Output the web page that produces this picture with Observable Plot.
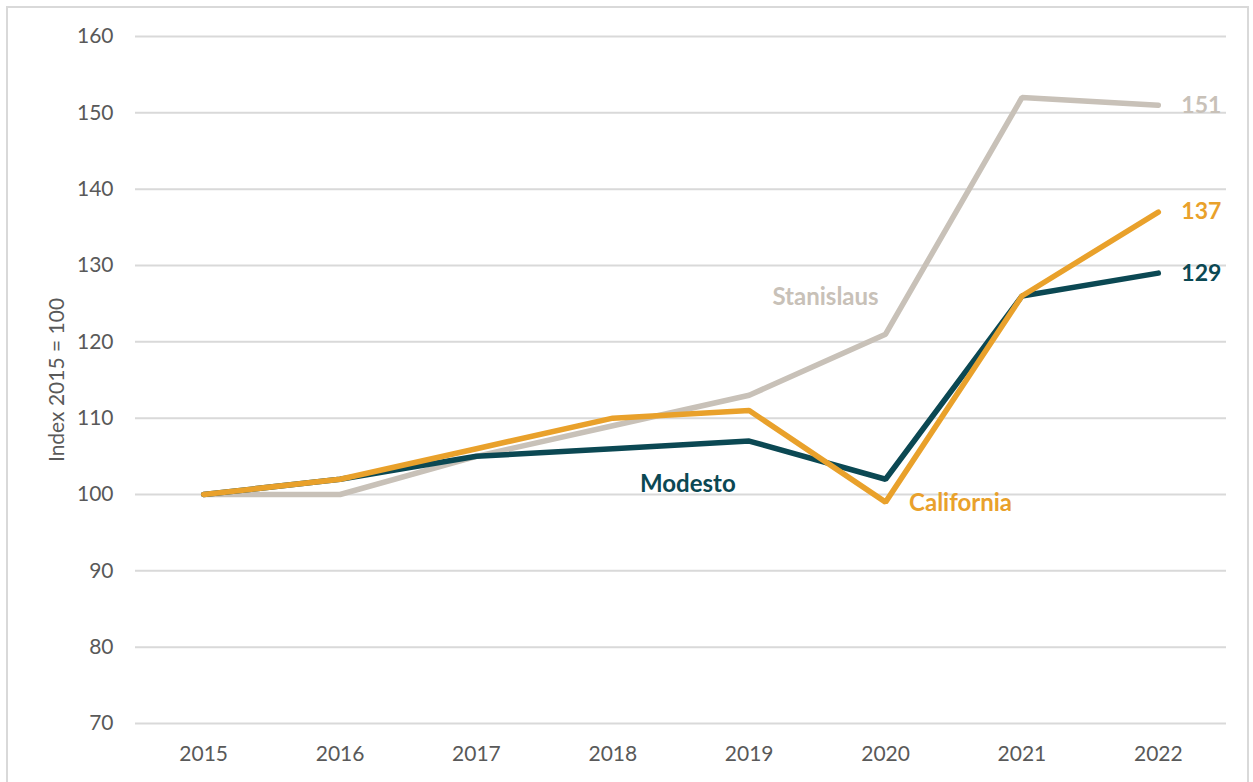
<!DOCTYPE html>
<html>
<head>
<meta charset="utf-8">
<script src="https://cdn.jsdelivr.net/npm/d3@7"></script>
<script src="https://cdn.jsdelivr.net/npm/@observablehq/plot@0.6"></script>
<style>
  html, body { margin: 0; padding: 0; background: #fff; }
  #wrap { position: relative; width: 1253px; height: 782px; }
  #frame { position: absolute; left: 6px; top: 6px; width: 1243px; height: 780px; border: 2px solid #d9d9d9; box-sizing: border-box; pointer-events: none; }
  #chart { position: absolute; left: 0; top: 0; }
</style>
</head>
<body>
<div id="wrap"><div id="chart"></div><div id="frame"></div></div>
<script>
const years = [2015, 2016, 2017, 2018, 2019, 2020, 2021, 2022];
const stanislaus = [100, 100, 105, 109, 113, 121, 152, 151];
const modesto = [100, 102, 105, 106, 107, 102, 126, 129];
const california = [100, 102, 106, 110, 111, 99, 126, 137];
const seriesNames = ["Stanislaus", "Modesto", "California"];
const seriesColors = ["#c8c1b8", "#0b4853", "#e9a12b"];
const yTicks = [70, 80, 90, 100, 110, 120, 130, 140, 150, 160];
// series name label anchors (year position, index value)
const labelYears = [2019.56, 2018.55, 2020.55];
const labelValues = [125.8, 101.3, 98.8];

const valuesBySeries = [stanislaus, modesto, california];
const rows = [];
seriesNames.forEach((s, i) => years.forEach((y, j) => rows.push({series: s, year: y, value: valuesBySeries[i][j]})));
const endLabels = seriesNames.map((s, i) => ({series: s, year: years[years.length - 1], value: valuesBySeries[i][years.length - 1]}));
const nameLabels = seriesNames.map((s, i) => ({series: s, year: labelYears[i], value: labelValues[i]}));
const colorOf = Object.fromEntries(seriesNames.map((s, i) => [s, seriesColors[i]]));

const chart = Plot.plot({
  width: 1253,
  height: 782,
  marginLeft: 135,
  marginRight: 27,
  marginTop: 36,
  marginBottom: 59,
  style: {fontFamily: "Lato, 'Open Sans', sans-serif", fontSize: "21px", color: "#595959", background: "transparent"},
  x: {domain: [2014.5, 2022.5], ticks: years, tickFormat: d => String(d), tickSize: 0, tickPadding: 23, label: null},
  y: {domain: [70, 160], ticks: yTicks, tickSize: 0, tickPadding: 22, label: null},
  marks: [
    Plot.gridY(yTicks, {stroke: "#d9d9d9", strokeWidth: 2, strokeOpacity: 1}),
    Plot.axisX({ticks: years, tickFormat: d => String(d), tickSize: 0, tickPadding: 23, fontSize: 21, fill: "#595959"}),
    Plot.axisY({ticks: yTicks, tickSize: 0, tickPadding: 22, fontSize: 21, fill: "#595959", label: null}),
    Plot.text(["Index 2015 = 100"], {frameAnchor: "left", textAnchor: "middle", dx: -78, rotate: -90, fontSize: 21, fill: "#595959"}),
    ...seriesNames.map(s => Plot.line(rows.filter(r => r.series === s), {x: "year", y: "value", stroke: colorOf[s], strokeWidth: 5.5, strokeLinecap: "round", strokeLinejoin: "miter"})),
    Plot.text(endLabels, {x: "year", y: "value", text: d => String(d.value), fill: d => colorOf[d.series], fontWeight: "bold", fontSize: 23, textAnchor: "start", dx: 23}),
    Plot.text(nameLabels, {x: "year", y: "value", text: "series", fill: d => colorOf[d.series], fontWeight: "bold", fontSize: 24})
  ]
});
document.getElementById("chart").appendChild(chart);
</script>
</body>
</html>
